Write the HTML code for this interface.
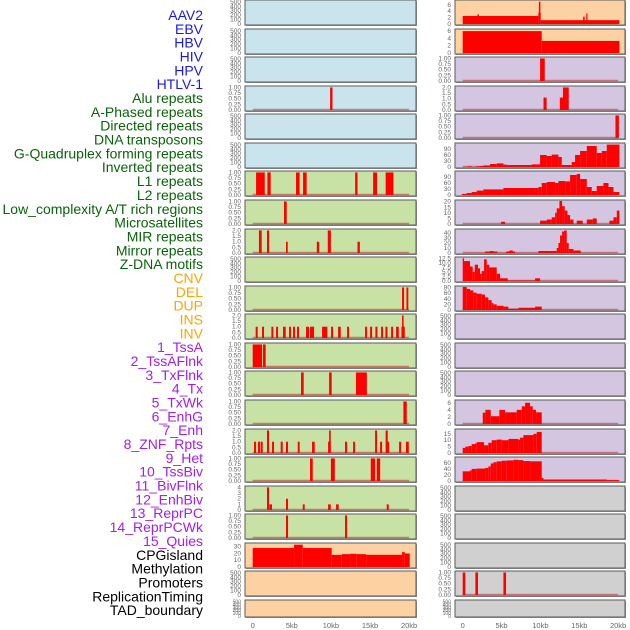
<!DOCTYPE html>
<html><head><meta charset="utf-8"><style>
html,body{margin:0;padding:0;background:#fff;width:630px;height:630px;overflow:hidden}
svg{display:block;font-family:"Liberation Sans",sans-serif}
</style></head><body>
<svg id="chart" width="630" height="630" viewBox="0 0 630 630" xmlns="http://www.w3.org/2000/svg"></svg>
<script>
// ---- labels ----
const labelNames = ["AAV2","EBV","HBV","HIV","HPV","HTLV-1","Alu repeats","A-Phased repeats","Directed repeats","DNA transposons","G-Quadruplex forming repeats","Inverted repeats","L1 repeats","L2 repeats","Low_complexity A/T rich regions","Microsatellites","MIR repeats","Mirror repeats","Z-DNA motifs","CNV","DEL","DUP","INS","INV","1_TssA","2_TssAFlnk","3_TxFlnk","4_Tx","5_TxWk","6_EnhG","7_Enh","8_ZNF_Rpts","9_Het","10_TssBiv","11_BivFlnk","12_EnhBiv","13_ReprPC","14_ReprPCWk","15_Quies","CPGisland","Methylation","Promoters","ReplicationTiming","TAD_boundary"];
const labelGroups = [6,13,5,15,5];
const groupColors = ["#1a1ae6","#0a640a","#ffa500","#a020f0","#000000"];
const xTicks = [0,5,10,15,20];
const xTickLabels = ["0","5kb","10kb","15kb","20kb"];

// ---- tick sets ----
const tEmptyV = [0,100,200,300,400,500], tEmptyL = ["0","100","200","300","400","500"];
const t1V = [0,0.25,0.5,0.75,1], t1L = ["0.00","0.25","0.50","0.75","1.00"];
const t2V = [0,0.5,1,1.5,2], t2L = ["0.0","0.5","1.0","1.5","2.0"];
const t4V = [0,1,2,3,4], t4L = ["0","1","2","3","4"];
const t6V = [0,2,4,6], t6L = ["0","2","4","6"];
const t90V = [0,30,60,90], t90L = ["0","30","60","90"];
const t20V = [0,5,10,15,20], t20L = ["0","5","10","15","20"];
const t40V = [0,10,20,30,40], t40L = ["0","10","20","30","40"];
const t12V = [0,2.5,5,7.5,10,12.5], t12L = ["0.0","2.5","5.0","7.5","10.0","12.5"];
const t80V = [0,20,40,60,80], t80L = ["0","20","40","60","80"];
const t15V = [0,5,10,15], t15L = ["0","5","10","15"];
const t60V = [0,20,40,60], t60L = ["0","20","40","60"];
const t30V = [0,10,20,30], t30L = ["0","10","20","30"];

// ---- data segments [startKb, endKb, value] ----
const L3 = [[9.9,10.2,1]];
const L6 = [[0.43,1.54,1],[1.88,2.3,1],[5.54,6.0,1],[6.44,6.9,1],[13.1,13.4,1],[15.4,15.9,1],[17.0,18.0,1]];
const L7 = [[4.0,4.35,1]];
const L8 = [[0.8,1.15,2],[1.83,2.1,2],[4.26,4.48,1],[8.2,8.5,1],[9.6,10.0,2],[13.4,13.7,1]];
const L10 = [[19.1,19.36,1],[19.66,19.9,1]];
const L11 = [[0.38,0.64,1],[1.19,1.45,1],[2.39,2.64,1],[2.99,3.24,1],[3.88,4.22,1],[4.65,4.9,1],[5.16,5.42,1],[5.67,5.93,1],[6.82,7.2,1],[7.33,7.85,1],[8.87,9.55,1],[10.02,10.28,1],[10.92,11.26,1],[12.07,12.32,1],[14.37,14.63,1],[15.01,15.27,1],[15.69,15.95,1],[16.42,16.67,1],[16.97,17.23,1],[17.7,17.95,1],[18.34,18.68,1],[19.02,19.45,1],[19.1,19.3,2]];
const L12 = [[0,1.2,1],[1.32,1.66,1]];
const L13 = [[6.18,6.52,1],[9.77,10.1,1],[13.2,14.6,1]];
const L14 = [[19.27,19.7,1]];
const L15 = [[0.17,0.43,1],[0.68,0.94,1],[1.02,1.28,1],[1.83,2.09,2],[2.47,2.73,1],[3.58,3.84,1],[4.26,4.52,1],[5.76,6.01,1],[7.59,7.93,1],[9.64,9.98,1],[9.77,9.98,2],[11.81,12.07,1],[12.84,13.09,1],[15.65,15.9,2],[16.29,16.55,1],[17.0,17.27,2],[17.1,17.45,1],[18.72,18.98,1],[19.6,19.96,1]];
const L16 = [[7.33,7.68,1],[10.0,10.5,1],[15.1,15.65,1],[15.86,16.3,1]];
const L17 = [[1.83,2.09,4],[2.13,2.47,1],[4.26,4.52,2],[6.4,6.65,1],[9.64,9.98,1],[10.66,11.0,1],[17.14,17.4,1]];
const L18 = [[4.26,4.52,1],[11.81,12.07,1]];
const L19 = [[0,5.29,28],[5.29,6.4,33],[6.4,10.1,28],[10.1,11.39,18],[11.39,12.45,19],[12.45,13.3,19.5],[13.3,14.5,19],[14.5,19.1,18],[19.1,19.45,22],[19.45,20.08,20]];

const R0 = [[0,9.74,2.5],[1.9,2.1,3],[9.74,10.04,3.5],[9.8,10.0,7],[10.04,20.17,1.2],[15.5,15.7,2.3],[15.9,16.05,3.3]];
const R1 = [[0,10.17,6],[10.17,20.17,3.3]];
const R2 = [[9.96,10.56,1]];
const R3 = [[10.4,10.8,1.1],[12.5,12.96,1.1],[12.9,13.65,2]];
const R4 = [[19.66,20.1,1]];
const R5 = [[0.6,1.16,3],[1.72,2.23,3],[2.23,2.66,5],[2.66,3.52,8],[3.52,4.38,15],[4.38,5.24,18],[5.24,5.67,12],[5.67,8.88,10],[8.88,9.96,13],[9.96,10.82,60],[10.82,11.46,55],[11.46,12.32,62],[12.32,12.75,50],[12.75,14.03,10],[14.03,14.46,25],[14.46,15.11,60],[15.11,15.97,80],[15.97,17.25,105],[17.25,17.9,70],[17.9,18.54,80],[18.54,20.17,112]];
const R6 = [[-0.13,0.52,5],[0.52,1.16,10],[1.16,1.8,15],[1.8,2.66,22],[2.66,5.24,28],[5.24,9.31,35],[9.31,9.74,35],[9.74,10.17,40],[10.17,10.82,60],[10.82,11.89,65],[11.89,12.32,60],[12.32,13.18,70],[13.18,13.82,68],[13.82,14.68,100],[14.68,15.11,105],[15.11,15.97,80],[15.97,16.61,40],[16.61,17.25,20],[17.25,18.11,45],[18.11,18.76,60],[18.76,19.4,40],[19.4,20.17,15]];
const R7 = [[4.94,5.45,2],[9.96,10.82,3],[10.82,11.46,4],[11.46,11.89,6],[11.89,12.1,10],[12.1,12.45,14],[12.45,12.79,21],[12.79,13.13,16],[13.13,13.48,12],[13.48,13.82,8],[13.82,14.25,4],[14.68,15.45,3],[15.97,16.74,4],[16.74,17.25,5],[18.88,19.4,3],[19.4,19.83,6],[19.83,20.17,12]];
const R8 = [[2.88,4.46,3],[3.52,3.95,4],[5.58,6.74,3],[6.01,6.44,5],[9.74,12.1,4],[12.1,12.32,10],[12.32,12.53,20],[12.53,12.79,35],[12.79,13.05,43],[13.05,13.39,45],[13.39,13.65,20],[13.65,14.25,8],[14.25,15.19,5]];
const R9 = [[0,0.17,12.5],[0.17,0.94,11],[0.94,1.29,8],[1.29,1.55,5],[1.55,1.97,9],[1.97,2.23,7],[2.23,2.45,4],[2.45,2.75,5.5],[2.75,3.09,12],[3.09,3.43,9],[3.43,4.38,7.5],[4.38,4.81,4],[4.81,5.79,1.5],[5.79,9.31,0.3],[9.31,9.96,1.5]];
const R10 = [[0,0.52,82],[0.52,0.94,75],[0.94,1.37,70],[1.37,1.8,62],[1.8,2.45,58],[2.45,2.88,55],[2.88,3.3,45],[3.3,3.73,35],[3.73,3.95,25],[3.95,4.38,20],[4.38,5.24,15],[5.24,5.88,12],[5.88,7.17,5],[7.17,9.31,8],[9.31,10.17,12]];
const R14 = [[2.58,2.92,3.2],[2.92,3.61,4],[3.61,4.72,2.2],[4.72,5.45,4],[5.45,6.95,3.3],[6.95,7.6,4],[7.6,8.03,5],[8.03,8.67,6],[8.67,9.01,5],[9.01,9.44,4],[9.44,10.17,3.3]];
const R15 = [[0,0.34,4],[0.34,0.73,5],[0.73,1.16,5.5],[1.16,1.59,7],[1.59,1.8,7.5],[1.8,2.75,8.5],[2.75,3.3,6],[3.3,3.73,8],[3.73,4.38,10],[4.38,5.02,10.5],[5.02,5.88,10],[5.88,7.17,11],[7.17,7.38,10.5],[7.38,7.81,12],[7.81,9.1,14],[9.1,9.53,15],[9.53,10.17,16.5]];
const R16 = [[0,0.94,32],[0.94,1.16,35],[1.16,1.8,40],[1.8,2.88,41],[2.88,3.3,43],[3.3,3.61,48],[3.61,3.95,58],[3.95,4.38,62],[4.38,5.02,65],[5.02,5.67,67],[5.67,6.52,68],[6.52,7.17,70],[7.17,7.81,69],[7.81,8.67,66],[8.67,10.17,65],[10.17,10.39,10],[10.39,18.54,5],[18.54,20.17,3]];
const R20 = [[0,0.34,1],[1.63,1.97,1],[5.24,5.58,1]];

const BLUE="#c9e4ec", GREEN="#c8e1a5", ORANGE="#fdd1a1", PURPLE="#d4c5e1", GRAY="#d0d0d0";
function P(bg,segs,tv,tl,ymax){return {bg:bg,segs:segs,tv:tv,tl:tl,ymax:ymax};}
const E=(bg)=>P(bg,null,tEmptyV,tEmptyL,520);
const leftPanels = [E(BLUE),E(BLUE),E(BLUE),P(BLUE,L3,t1V,t1L,1.02),E(BLUE),E(BLUE),
 P(GREEN,L6,t1V,t1L,1.02),P(GREEN,L7,t1V,t1L,1.02),P(GREEN,L8,t2V,t2L,2.04),E(GREEN),P(GREEN,L10,t1V,t1L,1.02),
 P(GREEN,L11,t2V,t2L,2.04),P(GREEN,L12,t1V,t1L,1.02),P(GREEN,L13,t1V,t1L,1.02),P(GREEN,L14,t1V,t1L,1.02),
 P(GREEN,L15,t2V,t2L,2.04),P(GREEN,L16,t1V,t1L,1.02),P(GREEN,L17,t4V,t4L,4.08),P(GREEN,L18,t1V,t1L,1.02),
 P(ORANGE,L19,t30V,t30L,34),E(ORANGE),E(ORANGE)];
const rightPanels = [P(ORANGE,R0,t6V,t6L,7.2),P(ORANGE,R1,t6V,t6L,6.3),P(PURPLE,R2,t1V,t1L,1.02),P(PURPLE,R3,t2V,t2L,2.04),
 P(PURPLE,R4,t1V,t1L,1.02),P(PURPLE,R5,t90V,t90L,115),P(PURPLE,R6,t90V,t90L,115),P(PURPLE,R7,t20V,t20L,20.6),
 P(PURPLE,R8,t40V,t40L,46),P(PURPLE,R9,t12V,t12L,12.7),P(PURPLE,R10,t80V,t80L,82),E(PURPLE),E(PURPLE),E(PURPLE),
 P(PURPLE,R14,t6V,t6L,6.5),P(PURPLE,R15,t15V,t15L,18),P(PURPLE,R16,t60V,t60L,76),E(GRAY),E(GRAY),E(GRAY),
 P(GRAY,R20,t1V,t1L,1.02),E(GRAY)];

const svg=document.getElementById('chart');
const NS="http://www.w3.org/2000/svg";
function mk(tag,attrs,parent){const e=document.createElementNS(NS,tag);for(const k in attrs)e.setAttribute(k,attrs[k]);(parent||svg).appendChild(e);return e;}

// labels
let li=0;
labelGroups.forEach((n,g)=>{for(let j=0;j<n;j++){
  const t=mk('text',{x:203,y:(20+li*13.84).toFixed(1),'text-anchor':'end','font-size':'14',fill:groupColors[g]});
  t.textContent=labelNames[li];
  
  
  li++;}});

const cols=[{x0:245,x1:416,o:252.7,s:7.82,panels:leftPanels,name:'left'},{x0:455,x1:625,o:462.7,s:7.77,panels:rightPanels,name:'right'}];
cols.forEach(c=>{
  const xs=kb=>c.o+kb*c.s;
  c.panels.forEach((p,i)=>{
    const top=Math.round(i*28.57), h=(i===21)?17:25, bot=top+h;
    const g=mk('g',{});
    
    
    mk('rect',{x:c.x0+1,y:top+1,width:c.x1-c.x0,height:h,fill:'#999'},g);
    mk('rect',{x:c.x0,y:top,width:c.x1-c.x0,height:h,fill:p.bg,stroke:'#5a5a5a','stroke-width':1},g);
    const ys=v=>bot-1-v/p.ymax*(h-2);
    p.tv.forEach((v,k)=>{
      const t=mk('text',{x:c.x0-4,y:(ys(v)+2).toFixed(1),'text-anchor':'end','font-size':(i===21?'5':'6.5'),fill:'#666'},g);
      t.textContent=p.tl[k];
      
      
    });
    if(p.segs){
      mk('line',{x1:xs(0),x2:xs(20),y1:bot-1.5,y2:bot-1.5,stroke:'rgba(200,40,40,0.55)','stroke-width':1.5},g);
      p.segs.forEach(sg=>{
        const xa=Math.max(xs(sg[0]),c.x0+1), xb=Math.min(xs(sg[1]),c.x1-1);
        const y=Math.max(ys(sg[2]),top+1);
        const r=mk('rect',{x:xa.toFixed(2),y:y.toFixed(2),width:Math.max(1.2,xb-xa).toFixed(2),height:(bot-1-y).toFixed(2),fill:'#ff0000'},g);
        
        
      });
    }
  });
  xTicks.forEach((v,k)=>{
    const t=mk('text',{x:xs(v).toFixed(1),y:628,'text-anchor':'middle','font-size':'7.5',fill:'#666'});
    t.textContent=xTickLabels[k];
    
    
  });
});
</script>
</body></html>
